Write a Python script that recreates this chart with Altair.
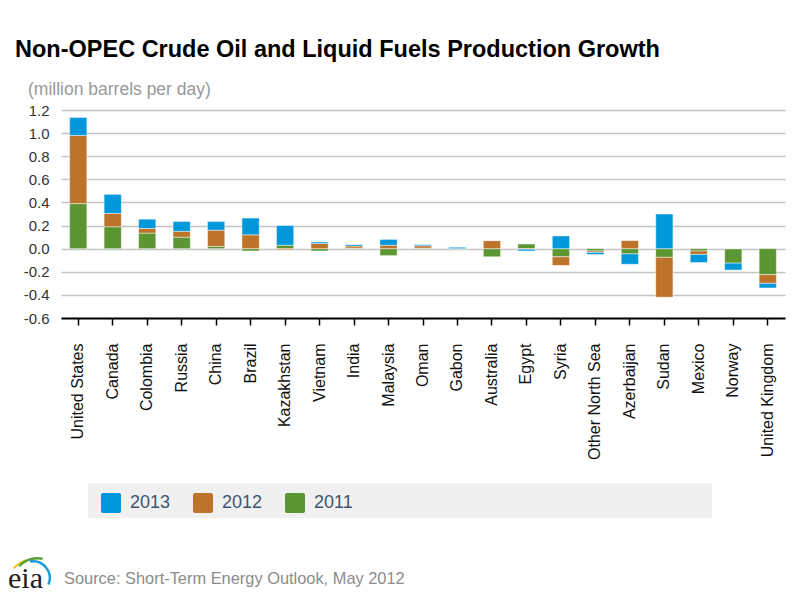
import altair as alt
import pandas as pd

# Production growth by country, million barrels per day
countries = [
    "United States", "Canada", "Colombia", "Russia", "China", "Brazil",
    "Kazakhstan", "Vietnam", "India", "Malaysia", "Oman", "Gabon",
    "Australia", "Egypt", "Syria", "Other North Sea", "Azerbaijan",
    "Sudan", "Mexico", "Norway", "United Kingdom",
]
growth_2011 = [0.39, 0.19, 0.135, 0.10, 0.02, -0.02, 0.03, -0.02, 0.005, -0.06,
               0.005, 0.0, -0.07, 0.04, -0.07, -0.02, -0.045, -0.075, -0.02,
               -0.125, -0.225]
growth_2012 = [0.59, 0.115, 0.04, 0.05, 0.14, 0.12, -0.01, 0.045, 0.018, 0.03,
               0.02, 0.0, 0.07, -0.005, -0.075, -0.012, 0.07, -0.345, -0.03,
               0.0, -0.075]
growth_2013 = [0.155, 0.165, 0.08, 0.085, 0.075, 0.145, 0.17, 0.012, 0.012, 0.05,
               0.01, 0.012, 0.0, -0.015, 0.11, -0.018, -0.09, 0.30, -0.07,
               -0.06, -0.04]
years = ["2013", "2012", "2011"]
year_colors = ["#0097DB", "#BD732A", "#5B9632"]
y_ticks = [-0.6, -0.4, -0.2, 0.0, 0.2, 0.4, 0.6, 0.8, 1.0, 1.2]

rows = []
for i, c in enumerate(countries):
    for yr, vals, order in (("2011", growth_2011, 0), ("2012", growth_2012, 1),
                            ("2013", growth_2013, 2)):
        rows.append({"country": c, "year": yr, "value": vals[i], "stack": order})
df = pd.DataFrame(rows)

FONT = "Liberation Sans"
LEFT, TOP, W, H = 61, 110, 724, 208

# rounded square for the legend swatches
rounded = ("M-0.8,-1 H0.8 Q1,-1 1,-0.8 V0.8 Q1,1 0.8,1 H-0.8 "
           "Q-1,1 -1,0.8 V-0.8 Q-1,-1 -0.8,-1 Z")

bars = alt.Chart(df).mark_bar(stroke="white", strokeWidth=1, strokeOpacity=0.45).encode(
    x=alt.X("country:N", sort=countries,
            scale=alt.Scale(paddingInner=0.5, paddingOuter=0.25),
            axis=alt.Axis(title=None, labelAngle=270, labelFontSize=16,
                          labelFont=FONT, labelColor="#111111", labelPadding=18,
                          domainColor="#000000", domainWidth=2,
                          tickColor="#000000", tickWidth=1.5, tickSize=7,
                          grid=False, zindex=1)),
    y=alt.Y("value:Q", stack="zero",
            scale=alt.Scale(domain=[-0.6, 1.2], nice=False, zero=False),
            axis=alt.Axis(title=None, values=y_ticks, domain=False, ticks=False,
                          labelFontSize=15, labelFont=FONT, labelColor="#333333",
                          labelPadding=12, gridColor="#c4c4c4", gridWidth=1.5,
                          labelExpr="(datum.value < 0 ? '-' : '') + format(abs(datum.value), '.1f')")),
    color=alt.Color("year:N",
                    scale=alt.Scale(domain=years, range=year_colors),
                    legend=alt.Legend(title=None, orient="none", legendX=40,
                                      legendY=383, direction="horizontal",
                                      symbolType=rounded, symbolSize=400,
                                      symbolStrokeWidth=0, symbolOpacity=1,
                                      labelFontSize=18, labelFont=FONT,
                                      labelColor="#3e5670", labelOffset=9,
                                      columnPadding=22, padding=0)),
    order=alt.Order("stack:Q", sort="ascending"),
)

one = pd.DataFrame({"k": [0]})

legend_box = alt.Chart(one).mark_rect(color="#f0f0f0").encode(
    x=alt.value(88 - LEFT), x2=alt.value(712 - LEFT),
    y=alt.value(483 - TOP), y2=alt.value(518 - TOP),
)

title = alt.Chart(one).mark_text(
    text="Non-OPEC Crude Oil and Liquid Fuels Production Growth",
    font=FONT, fontSize=23.5, fontWeight="bold", color="#000000",
    align="left", baseline="alphabetic",
).encode(x=alt.value(15 - LEFT), y=alt.value(57 - TOP))

subtitle = alt.Chart(one).mark_text(
    text="(million barrels per day)", font=FONT, fontSize=17.5, color="#999999",
    align="left", baseline="alphabetic",
).encode(x=alt.value(28 - LEFT), y=alt.value(95 - TOP))

source = alt.Chart(one).mark_text(
    text="Source: Short-Term Energy Outlook, May 2012", font=FONT, fontSize=16.4,
    color="#8c8c8c", align="left", baseline="alphabetic",
).encode(x=alt.value(64 - LEFT), y=alt.value(584 - TOP))

logo_text = alt.Chart(one).mark_text(
    text="eia", font="Liberation Serif", fontSize=30, color="#222222",
    align="left", baseline="alphabetic",
).encode(x=alt.value(8 - LEFT), y=alt.value(588 - TOP))

logo_blue = alt.Chart(one).mark_arc(
    color="#1a9ad6", radius=18, radius2=15.5, theta=6.1, theta2=8.25,
).encode(x=alt.value(33 - LEFT), y=alt.value(578 - TOP))

logo_green = alt.Chart(one).mark_arc(
    color="#5aa03c", radius=28, radius2=25.5, theta=5.5, theta2=6.46,
).encode(x=alt.value(38 - LEFT), y=alt.value(585 - TOP))

logo_yellow = alt.Chart(one).mark_arc(
    color="#f2c01e", radius=35, radius2=33, theta=5.48, theta2=5.92,
).encode(x=alt.value(38 - LEFT), y=alt.value(592 - TOP))

chart = alt.layer(
    legend_box, bars, title, subtitle, source,
    logo_yellow, logo_green, logo_blue, logo_text,
).properties(
    width=W, height=H,
    autosize=alt.AutoSizeParams(type="none"),
    padding={"left": LEFT, "top": TOP, "right": 800 - LEFT - W,
             "bottom": 595 - TOP - H},
    background="white",
).configure_view(stroke=None)

chart.save("out.html", embed_options={"renderer": "svg", "actions": False})
